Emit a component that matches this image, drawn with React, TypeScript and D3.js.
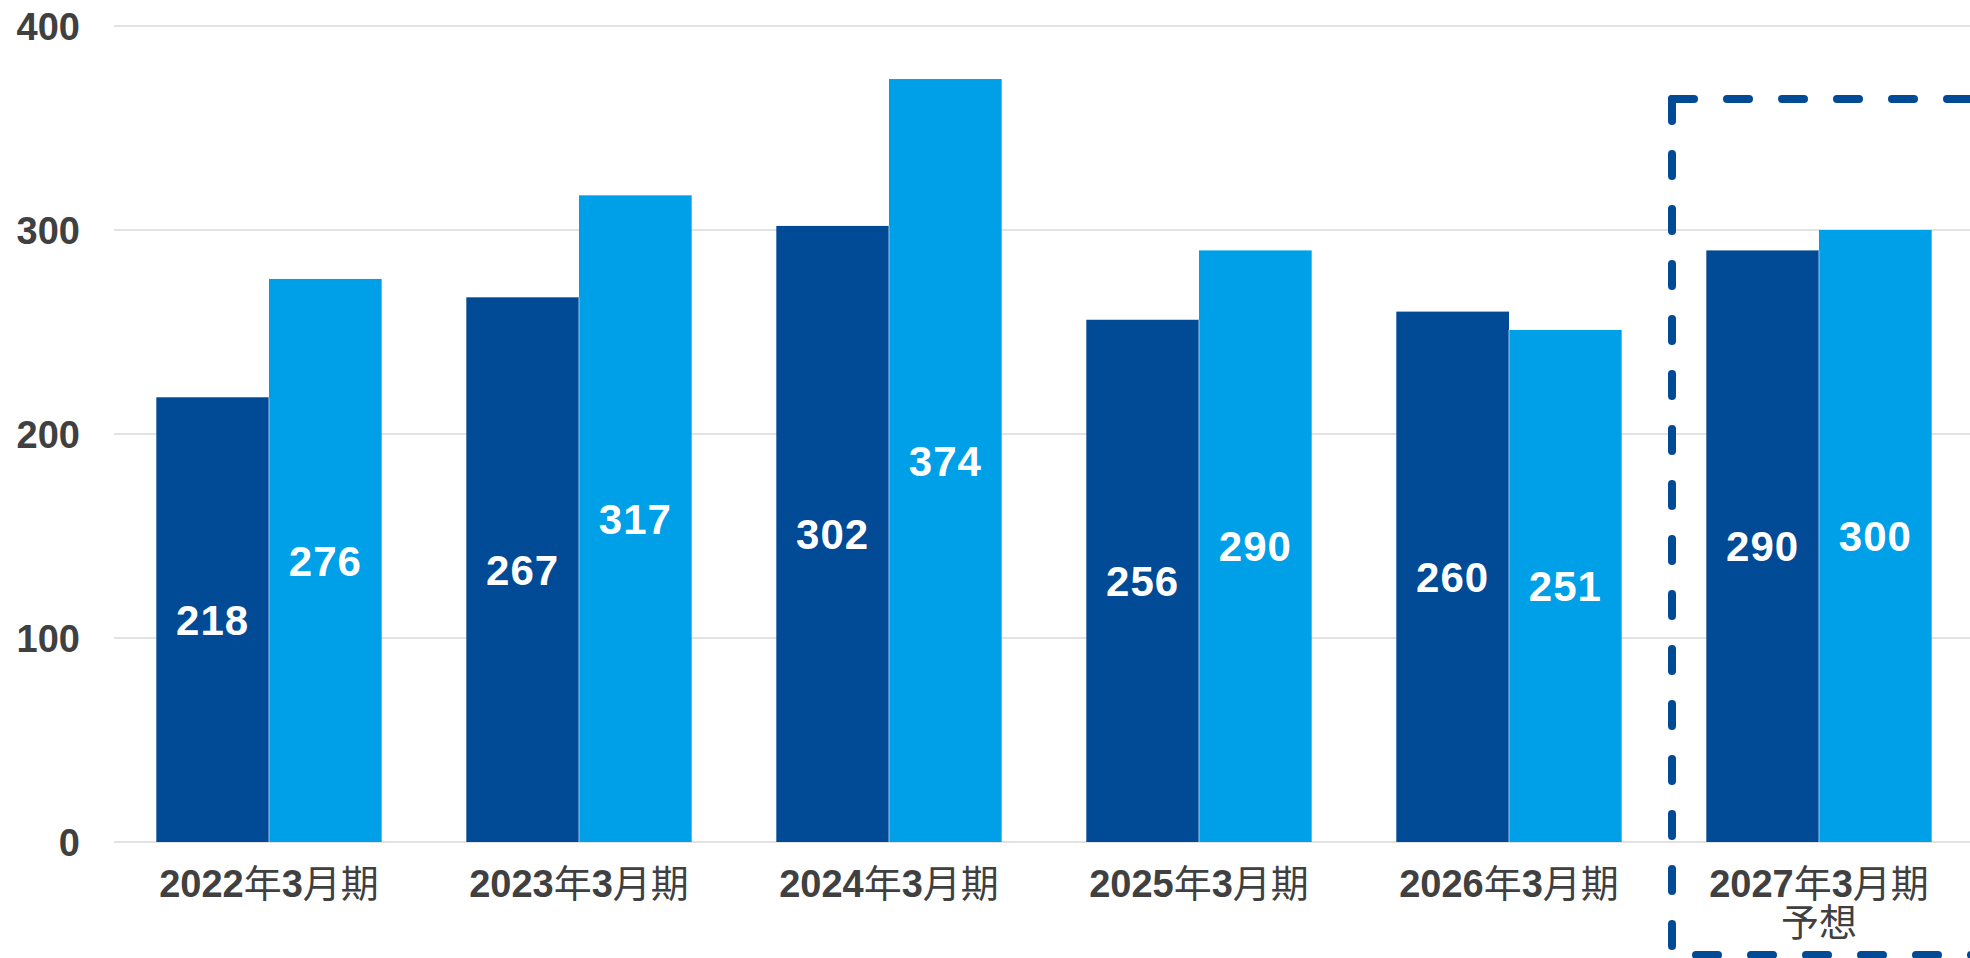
import React from "react";
import * as d3 from "d3";

const categories = ["2022年3月期", "2023年3月期", "2024年3月期", "2025年3月期", "2026年3月期", "2027年3月期"];
const subLabels = ["", "", "", "", "", "予想"];
const seriesDark = [218, 267, 302, 256, 260, 290];
const seriesLight = [276, 317, 374, 290, 251, 300];
const yTicks = [0, 100, 200, 300, 400];

const W = 1970;
const H = 958;
const DARK = "#004A96";
const LIGHT = "#00A0E8";
const TEXT = "#404040";
const NUM_FONT = "'Liberation Sans', Arial, sans-serif";
const CJK_FONT = "'Liberation Sans', Arial, 'Noto Sans CJK JP', sans-serif";

function splitLabel(s: string) {
  const parts: { t: string; bold: boolean }[] = [];
  const re = /(\d+)|([^\d]+)/g;
  let m;
  while ((m = re.exec(s))) {
    if (m[1]) parts.push({ t: m[1], bold: true });
    else parts.push({ t: m[2], bold: false });
  }
  return parts;
}

export default function App() {
  const x = d3.scaleBand<string>().domain(categories).range([114, 1974]).paddingInner(0).paddingOuter(0);
  const y = d3.scaleLinear().domain([0, 400]).range([842, 26]);
  const step = x.step();
  const barW = step * 0.3635;
  const fs = 38;
  const vfs = 42;

  return (
    <svg width={W} height={H} style={{ position: "absolute", left: 0, top: 0, background: "#fff" }}>
      {yTicks.map((t) => (
        <g key={t}>
          <line x1={114} x2={W} y1={y(t)} y2={y(t)} stroke="#d9d9d9" strokeWidth={1.5} />
          <text x={80} y={y(t)} dy="0.36em" textAnchor="end" fontFamily={NUM_FONT} fontWeight="bold" fontSize={fs} fill={TEXT}>
            {t}
          </text>
        </g>
      ))}
      {categories.map((c, i) => {
        const cx = (x(c) as number) + step / 2;
        const d = seriesDark[i];
        const l = seriesLight[i];
        return (
          <g key={c}>
            <rect x={cx - barW} y={y(d)} width={barW} height={y(0) - y(d)} fill={DARK} />
            <rect x={cx} y={y(l)} width={barW} height={y(0) - y(l)} fill={LIGHT} />
            <line x1={cx} x2={cx} y1={Math.max(y(d), y(l))} y2={y(0)} stroke="#9cc7ea" strokeWidth={1} />
            <text x={cx - barW / 2} y={(y(d) + y(0)) / 2} dy="0.36em" textAnchor="middle" fontFamily={NUM_FONT} fontWeight="bold" fontSize={vfs} fill="#fff" letterSpacing={1}>
              {d}
            </text>
            <text x={cx + barW / 2} y={(y(l) + y(0)) / 2} dy="0.36em" textAnchor="middle" fontFamily={NUM_FONT} fontWeight="bold" fontSize={vfs} fill="#fff" letterSpacing={1}>
              {l}
            </text>
            <text x={cx} y={897} textAnchor="middle" fontFamily={CJK_FONT} fontSize={fs} fill={TEXT}>
              {splitLabel(c).map((p, k) => (
                <tspan key={k} fontWeight={p.bold ? "bold" : "normal"}>
                  {p.t}
                </tspan>
              ))}
            </text>
            {subLabels[i] && (
              <text x={cx} y={936} textAnchor="middle" fontFamily={CJK_FONT} fontSize={fs} fill={TEXT}>
                {subLabels[i]}
              </text>
            )}
          </g>
        );
      })}
      <path d="M1672,99 H2010" fill="none" stroke={DARK} strokeWidth={8} strokeLinecap="round" strokeDasharray="22 33" />
      <path d="M1672,99 V955 H2010" fill="none" stroke={DARK} strokeWidth={8} strokeLinecap="round" strokeDasharray="22 33" />
    </svg>
  );
}
